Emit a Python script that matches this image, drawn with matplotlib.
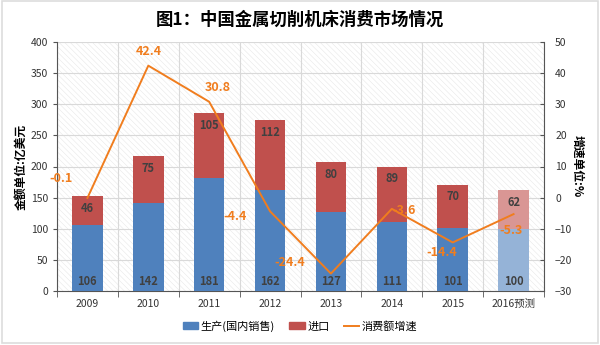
import numpy as np
import matplotlib.pyplot as plt
from matplotlib.patches import Rectangle
from matplotlib.lines import Line2D

plt.rcParams['font.family'] = ['Noto Sans CJK SC', 'DejaVu Sans']
plt.rcParams['hatch.linewidth'] = 0.4
plt.rcParams['hatch.color'] = '#e8e8e8'

years = ['2009', '2010', '2011', '2012', '2013', '2014', '2015', '2016预测']
production = [106, 142, 181, 162, 127, 111, 101, 100]
imports = [46, 75, 105, 112, 80, 89, 70, 62]
growth = [-0.1, 42.4, 30.8, -4.4, -24.4, -3.6, -14.4, -5.3]
growth_text = ['-0.1', '42.4', '30.8', '-4.4', '-24.4', '-3.6', '-14.4', '-5.3']
# label offsets (points) relative to each line point
label_offsets = [(-19, 14), (0, 10), (6, 10), (-25, -4), (-30, 8), (9, -1), (-8, -7), (-2, -12)]

blue = ['#4f81bd'] * 7 + ['#95b3d7']
red = ['#c0504d'] * 7 + ['#d99694']
orange = '#f07d1e'
txt = '#404040'

fig = plt.figure(figsize=(6, 3.45), dpi=100)
fig.patches.append(Rectangle((0.003, 0.006), 0.994, 0.99, transform=fig.transFigure,
                             fill=False, edgecolor='#dddddd', linewidth=1.2))

ax = fig.add_axes([57 / 600, 1 - 291 / 345, 487 / 600, 249 / 345])
ax.set_facecolor('white')
ax.add_patch(Rectangle((0, 0), 1, 1, transform=ax.transAxes, facecolor='white',
                       hatch='\\\\\\\\\\\\', edgecolor='#e8e8e8', linewidth=0, zorder=0))

x = np.arange(len(years))
ax.bar(x, production, width=0.5, color=blue, zorder=3)
ax.bar(x, imports, width=0.5, bottom=production, color=red, zorder=3)

for i in range(len(years)):
    ax.text(x[i], 5, str(production[i]), ha='center', va='bottom', fontsize=8,
            fontweight='bold', color=txt, zorder=5)
    ax.text(x[i], production[i] + imports[i] - 9, str(imports[i]), ha='center', va='top',
            fontsize=8, fontweight='bold', color=txt, zorder=5)

ax.set_xlim(-0.5, len(years) - 0.5)
ax.set_ylim(0, 400)
ax.set_yticks(range(0, 401, 50))
ax.set_xticks(x)
ax.set_xticklabels(years, fontsize=7.5, color='#333333')
ax.set_xticks(np.arange(-0.5, len(years), 1), minor=True)
ax.tick_params(axis='x', which='major', length=0, pad=6)
ax.tick_params(axis='x', which='minor', length=4, direction='out', color='#555555')
ax.tick_params(axis='y', labelsize=7.5, labelcolor='#333333', length=3, color='#555555')
ax.grid(True, axis='y', color='#d9d9d9', linewidth=0.8, zorder=1)
ax.grid(True, axis='x', which='minor', color='#d9d9d9', linewidth=0.8, zorder=1)
ax.set_axisbelow(True)
for s in ['top', 'right']:
    ax.spines[s].set_visible(False)
ax.spines['left'].set_color('#555555')
ax.spines['bottom'].set_color('#555555')
ax.set_ylabel('金额单位:亿美元', fontsize=8.5, fontweight='bold', labelpad=2)

ax2 = ax.twinx()
ax2.plot(x, growth, color=orange, linewidth=1.4, zorder=4)
for i in range(len(years)):
    ax2.annotate(growth_text[i], (x[i], growth[i]), xytext=label_offsets[i],
                 textcoords='offset points', ha='center', va='center', fontsize=9,
                 fontweight='bold', color=orange, zorder=6)
ax2.set_ylim(-30, 50)
ax2.set_yticks(range(-30, 51, 10))
ax2.tick_params(axis='y', labelsize=7.5, labelcolor='#333333', length=3,
                direction='in', color='#555555', pad=8)
for s in ['top', 'left', 'bottom']:
    ax2.spines[s].set_visible(False)
ax2.spines['right'].set_color('#555555')
ax2.set_ylabel('增速单位:%', fontsize=8.5, fontweight='bold', rotation=-90, labelpad=8)

fig.suptitle('图1：中国金属切削机床消费市场情况', fontsize=12.5, fontweight='bold', y=0.968)

handles = [Rectangle((0, 0), 1, 1, color='#4f81bd'), Rectangle((0, 0), 1, 1, color='#c0504d'),
           Line2D([0], [0], color=orange, linewidth=1.4)]
fig.legend(handles, ['生产(国内销售)', '进口', '消费额增速'], loc='center',
           bbox_to_anchor=(0.5, 1 - 326 / 345), ncol=3, frameon=False, fontsize=8,
           handlelength=1.4, handleheight=0.6, handletextpad=0.2, columnspacing=1.3)

fig.savefig('out.png', dpi=100)
